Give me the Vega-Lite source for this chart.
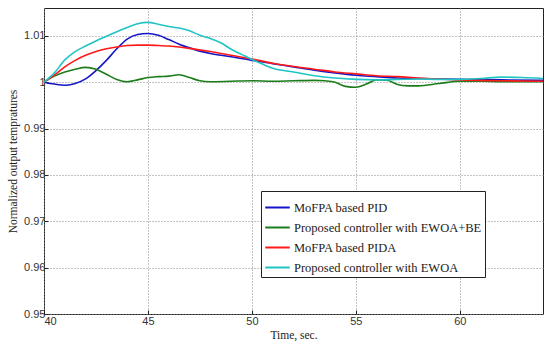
{
  "$schema": "https://vega.github.io/schema/vega-lite/v6.json",
  "width": 499,
  "height": 306,
  "autosize": "none",
  "padding": {"left": 44, "top": 8, "right": 7, "bottom": 34},
  "background": "white",
  "config": {
    "view": {"stroke": "#222", "strokeWidth": 1},
    "axis": {
      "labelFont": "Liberation Sans",
      "labelFontSize": 11,
      "labelColor": "#333",
      "titleFont": "Liberation Serif",
      "titleFontSize": 11.5,
      "titleFontWeight": "normal",
      "titleColor": "#222",
      "domain": false,
      "tickColor": "#222",
      "tickSize": -4,
      "grid": true,
      "gridColor": "#888",
      "gridDash": [1, 2],
      "gridWidth": 1
    }
  },
  "data": {"values": [
    {"s":"MoFPA based PID","t":40,"v":1.0},{"s":"MoFPA based PID","t":40.5,"v":0.9996},{"s":"MoFPA based PID","t":41.05,"v":0.99935},{"s":"MoFPA based PID","t":41.5,"v":0.9997},{"s":"MoFPA based PID","t":42,"v":1.0007},{"s":"MoFPA based PID","t":42.5,"v":1.0025},{"s":"MoFPA based PID","t":43,"v":1.0047},{"s":"MoFPA based PID","t":43.5,"v":1.0072},{"s":"MoFPA based PID","t":44,"v":1.0093},{"s":"MoFPA based PID","t":44.5,"v":1.0103},{"s":"MoFPA based PID","t":45,"v":1.0105},{"s":"MoFPA based PID","t":45.5,"v":1.0101},{"s":"MoFPA based PID","t":46,"v":1.0092},{"s":"MoFPA based PID","t":46.5,"v":1.0082},{"s":"MoFPA based PID","t":47,"v":1.0074},{"s":"MoFPA based PID","t":47.5,"v":1.0067},{"s":"MoFPA based PID","t":48,"v":1.0062},{"s":"MoFPA based PID","t":49,"v":1.0055},{"s":"MoFPA based PID","t":50,"v":1.0047},{"s":"MoFPA based PID","t":51,"v":1.004},{"s":"MoFPA based PID","t":52,"v":1.0033},{"s":"MoFPA based PID","t":53,"v":1.0026},{"s":"MoFPA based PID","t":54,"v":1.002},{"s":"MoFPA based PID","t":55,"v":1.0015},{"s":"MoFPA based PID","t":56,"v":1.0012},{"s":"MoFPA based PID","t":57,"v":1.0009},{"s":"MoFPA based PID","t":58,"v":1.0008},{"s":"MoFPA based PID","t":59,"v":1.0007},{"s":"MoFPA based PID","t":60,"v":1.0006},{"s":"MoFPA based PID","t":62,"v":1.0005},{"s":"MoFPA based PID","t":64,"v":1.0004},

    {"s":"Proposed controller with EWOA+BE","t":40,"v":1.0},{"s":"Proposed controller with EWOA+BE","t":40.5,"v":1.0013},{"s":"Proposed controller with EWOA+BE","t":41,"v":1.0022},{"s":"Proposed controller with EWOA+BE","t":41.5,"v":1.0028},{"s":"Proposed controller with EWOA+BE","t":42,"v":1.0032},{"s":"Proposed controller with EWOA+BE","t":42.5,"v":1.0028},{"s":"Proposed controller with EWOA+BE","t":43,"v":1.0017},{"s":"Proposed controller with EWOA+BE","t":43.5,"v":1.0006},{"s":"Proposed controller with EWOA+BE","t":44,"v":1.0001},{"s":"Proposed controller with EWOA+BE","t":44.5,"v":1.0005},{"s":"Proposed controller with EWOA+BE","t":45,"v":1.001},{"s":"Proposed controller with EWOA+BE","t":45.5,"v":1.0012},{"s":"Proposed controller with EWOA+BE","t":46,"v":1.0013},{"s":"Proposed controller with EWOA+BE","t":46.5,"v":1.0016},{"s":"Proposed controller with EWOA+BE","t":47,"v":1.001},{"s":"Proposed controller with EWOA+BE","t":47.5,"v":1.0003},{"s":"Proposed controller with EWOA+BE","t":48,"v":1.0001},{"s":"Proposed controller with EWOA+BE","t":49,"v":1.0002},{"s":"Proposed controller with EWOA+BE","t":50,"v":1.0003},{"s":"Proposed controller with EWOA+BE","t":51,"v":1.0002},{"s":"Proposed controller with EWOA+BE","t":52,"v":1.0003},{"s":"Proposed controller with EWOA+BE","t":53,"v":1.0004},{"s":"Proposed controller with EWOA+BE","t":53.5,"v":1.0003},{"s":"Proposed controller with EWOA+BE","t":54,"v":1.0},{"s":"Proposed controller with EWOA+BE","t":54.5,"v":0.9991},{"s":"Proposed controller with EWOA+BE","t":55,"v":0.9989},{"s":"Proposed controller with EWOA+BE","t":55.5,"v":0.9996},{"s":"Proposed controller with EWOA+BE","t":56,"v":1.0005},{"s":"Proposed controller with EWOA+BE","t":56.5,"v":1.0004},{"s":"Proposed controller with EWOA+BE","t":57,"v":0.9995},{"s":"Proposed controller with EWOA+BE","t":57.5,"v":0.9992},{"s":"Proposed controller with EWOA+BE","t":58,"v":0.9992},{"s":"Proposed controller with EWOA+BE","t":59,"v":0.9997},{"s":"Proposed controller with EWOA+BE","t":60,"v":1.0002},{"s":"Proposed controller with EWOA+BE","t":61,"v":1.0002},{"s":"Proposed controller with EWOA+BE","t":62,"v":1.0001},{"s":"Proposed controller with EWOA+BE","t":63,"v":1.0001},{"s":"Proposed controller with EWOA+BE","t":64,"v":1.0001},

    {"s":"MoFPA based PIDA","t":40,"v":1.0},{"s":"MoFPA based PIDA","t":40.5,"v":1.0015},{"s":"MoFPA based PIDA","t":41,"v":1.0033},{"s":"MoFPA based PIDA","t":41.5,"v":1.0047},{"s":"MoFPA based PIDA","t":42,"v":1.0058},{"s":"MoFPA based PIDA","t":42.5,"v":1.0066},{"s":"MoFPA based PIDA","t":43,"v":1.0072},{"s":"MoFPA based PIDA","t":43.5,"v":1.0076},{"s":"MoFPA based PIDA","t":44,"v":1.0079},{"s":"MoFPA based PIDA","t":44.5,"v":1.008},{"s":"MoFPA based PIDA","t":45,"v":1.008},{"s":"MoFPA based PIDA","t":45.5,"v":1.0079},{"s":"MoFPA based PIDA","t":46,"v":1.0078},{"s":"MoFPA based PIDA","t":46.5,"v":1.0076},{"s":"MoFPA based PIDA","t":47,"v":1.0073},{"s":"MoFPA based PIDA","t":48,"v":1.0066},{"s":"MoFPA based PIDA","t":49,"v":1.0058},{"s":"MoFPA based PIDA","t":50,"v":1.005},{"s":"MoFPA based PIDA","t":51,"v":1.0041},{"s":"MoFPA based PIDA","t":52,"v":1.0034},{"s":"MoFPA based PIDA","t":53,"v":1.0028},{"s":"MoFPA based PIDA","t":54,"v":1.0022},{"s":"MoFPA based PIDA","t":55,"v":1.0018},{"s":"MoFPA based PIDA","t":56,"v":1.0014},{"s":"MoFPA based PIDA","t":57,"v":1.0012},{"s":"MoFPA based PIDA","t":58,"v":1.0009},{"s":"MoFPA based PIDA","t":60,"v":1.0005},{"s":"MoFPA based PIDA","t":62,"v":1.0003},{"s":"MoFPA based PIDA","t":64,"v":1.0002},

    {"s":"Proposed controller with EWOA","t":40,"v":1.0},{"s":"Proposed controller with EWOA","t":40.5,"v":1.002},{"s":"Proposed controller with EWOA","t":41,"v":1.0048},{"s":"Proposed controller with EWOA","t":41.5,"v":1.0066},{"s":"Proposed controller with EWOA","t":42,"v":1.0078},{"s":"Proposed controller with EWOA","t":42.5,"v":1.0089},{"s":"Proposed controller with EWOA","t":43,"v":1.0099},{"s":"Proposed controller with EWOA","t":43.5,"v":1.0109},{"s":"Proposed controller with EWOA","t":44,"v":1.0118},{"s":"Proposed controller with EWOA","t":44.5,"v":1.0126},{"s":"Proposed controller with EWOA","t":45,"v":1.0129},{"s":"Proposed controller with EWOA","t":45.5,"v":1.0125},{"s":"Proposed controller with EWOA","t":46,"v":1.012},{"s":"Proposed controller with EWOA","t":46.5,"v":1.0117},{"s":"Proposed controller with EWOA","t":47,"v":1.0111},{"s":"Proposed controller with EWOA","t":47.5,"v":1.0101},{"s":"Proposed controller with EWOA","t":48,"v":1.0094},{"s":"Proposed controller with EWOA","t":48.5,"v":1.0085},{"s":"Proposed controller with EWOA","t":49,"v":1.0071},{"s":"Proposed controller with EWOA","t":49.5,"v":1.006},{"s":"Proposed controller with EWOA","t":50,"v":1.0049},{"s":"Proposed controller with EWOA","t":50.5,"v":1.0039},{"s":"Proposed controller with EWOA","t":51,"v":1.003},{"s":"Proposed controller with EWOA","t":52,"v":1.0022},{"s":"Proposed controller with EWOA","t":53,"v":1.0014},{"s":"Proposed controller with EWOA","t":54,"v":1.0009},{"s":"Proposed controller with EWOA","t":55,"v":1.0006},{"s":"Proposed controller with EWOA","t":56,"v":1.0005},{"s":"Proposed controller with EWOA","t":57,"v":1.0006},{"s":"Proposed controller with EWOA","t":58,"v":1.0007},{"s":"Proposed controller with EWOA","t":59,"v":1.0006},{"s":"Proposed controller with EWOA","t":60,"v":1.0006},{"s":"Proposed controller with EWOA","t":61,"v":1.0008},{"s":"Proposed controller with EWOA","t":62,"v":1.0011},{"s":"Proposed controller with EWOA","t":63,"v":1.001},{"s":"Proposed controller with EWOA","t":64,"v":1.0008}
  ]},
  "mark": {"type": "line", "interpolate": "monotone", "strokeWidth": 1.6},
  "encoding": {
    "x": {"field": "t", "type": "quantitative", "title": "Time, sec.",
      "scale": {"domain": [40, 64], "nice": false, "zero": false},
      "axis": {"values": [40, 45, 50, 55, 60], "labelPadding": 5, "titlePadding": 3}},
    "y": {"field": "v", "type": "quantitative", "title": "Normalized output tempratures",
      "scale": {"domain": [0.95, 1.016], "nice": false, "zero": false},
      "axis": {"values": [0.95, 0.96, 0.97, 0.98, 0.99, 1.0, 1.01], "format": "~g", "labelPadding": 3, "titlePadding": 5}},
    "color": {"field": "s", "type": "nominal",
      "scale": {"domain": ["MoFPA based PID", "Proposed controller with EWOA+BE", "MoFPA based PIDA", "Proposed controller with EWOA"],
                "range": ["#1515c8", "#1a7d1a", "#ff1a1a", "#20c4c4"]},
      "legend": {"title": null, "orient": "none", "legendX": 217, "legendY": 183,
        "symbolType": "stroke", "symbolSize": 600, "symbolStrokeWidth": 2,
        "labelFont": "Liberation Serif", "labelFontSize": 12.5, "labelColor": "#222", "labelLimit": 0,
        "strokeColor": "#222", "fillColor": "white", "padding": 3, "rowPadding": 0, "labelOffset": 3}}
  }
}
